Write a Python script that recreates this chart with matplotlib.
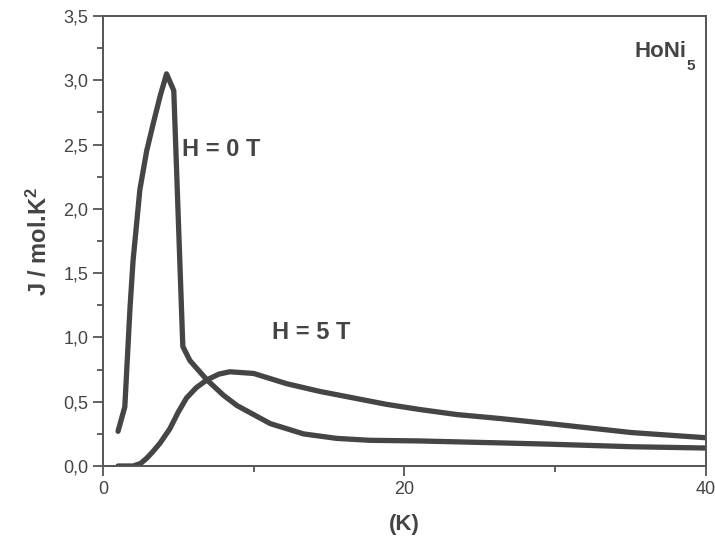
import numpy as np
import matplotlib.pyplot as plt
from matplotlib.ticker import MultipleLocator, FuncFormatter

plt.rcParams['font.family'] = ['Liberation Sans', 'DejaVu Sans']
plt.rcParams['mathtext.default'] = 'regular'

# specific heat / T for HoNi5, zero field
t_h0 = [1.0, 1.45, 1.8, 2.0, 2.45, 2.9, 3.35, 3.8, 4.22, 4.7, 5.3, 5.77,
        6.9, 8.0, 8.9, 10.0, 11.1, 13.3, 15.5, 17.7, 21.0, 26.3, 29.6,
        35.1, 40.0]
c_h0 = [0.27, 0.46, 1.24, 1.6, 2.15, 2.45, 2.67, 2.88, 3.05, 2.92, 0.93,
        0.82, 0.67, 0.55, 0.47, 0.40, 0.33, 0.25, 0.215, 0.20, 0.195, 0.18,
        0.17, 0.15, 0.14]

# same, under 5 T
t_h5 = [1.0, 1.5, 2.0, 2.5, 2.9, 3.3, 3.8, 4.44, 5.0, 5.55, 6.2, 6.9, 7.7,
        8.42, 10.0, 12.2, 14.4, 16.6, 18.8, 21.0, 23.5, 26.3, 29.6, 35.1, 40.0]
c_h5 = [0.0, 0.0, 0.0, 0.02, 0.06, 0.11, 0.18, 0.29, 0.42, 0.53, 0.61, 0.67,
        0.715, 0.733, 0.72, 0.64, 0.58, 0.53, 0.48, 0.44, 0.40, 0.37, 0.33,
        0.26, 0.22]

line_col = '#454545'
text_col = '#444444'

fig = plt.figure(figsize=(7.15, 5.41), dpi=100)
ax = fig.add_axes([0.144, 0.1386, 0.843, 0.8318])

ax.plot(t_h0, c_h0, color=line_col, lw=3.8, solid_joinstyle='round',
        solid_capstyle='round')
ax.plot(t_h5, c_h5, color=line_col, lw=3.8, solid_joinstyle='round',
        solid_capstyle='round')

ax.set_xlim(0, 40)
ax.set_ylim(0, 3.5)
ax.xaxis.set_major_locator(MultipleLocator(20))
ax.xaxis.set_minor_locator(MultipleLocator(10))
ax.yaxis.set_major_locator(MultipleLocator(0.5))
ax.yaxis.set_minor_locator(MultipleLocator(0.25))
ax.yaxis.set_major_formatter(FuncFormatter(lambda v, p: f'{v:.1f}'.replace('.', ',')))

ax.tick_params(which='both', direction='out', colors='#555555',
               labelcolor=text_col, labelsize=13, width=1.3)
ax.tick_params(which='major', length=7)
ax.tick_params(which='minor', length=4)
for s in ax.spines.values():
    s.set_color('#555555')
    s.set_linewidth(1.4)

ax.set_xlabel('(K)', fontsize=16, fontweight='bold', color=text_col, labelpad=12)
ax.set_ylabel('J / mol.K$^2$', fontsize=17, fontweight='bold', color=text_col,
              labelpad=8)

ax.text(5.25, 2.46, 'H = 0 T', fontsize=17, fontweight='bold', color=text_col,
        va='center', ha='left')
ax.text(11.2, 1.04, 'H = 5 T', fontsize=17, fontweight='bold', color=text_col,
        va='center', ha='left')
# compound name with a dropped subscript
ax.text(38.7, 3.18, 'HoNi', fontsize=16, fontweight='bold', color=text_col,
        va='baseline', ha='right')
ax.text(38.75, 3.08, '5', fontsize=11, fontweight='bold', color=text_col,
        va='baseline', ha='left')

fig.savefig('out.png', dpi=100)
